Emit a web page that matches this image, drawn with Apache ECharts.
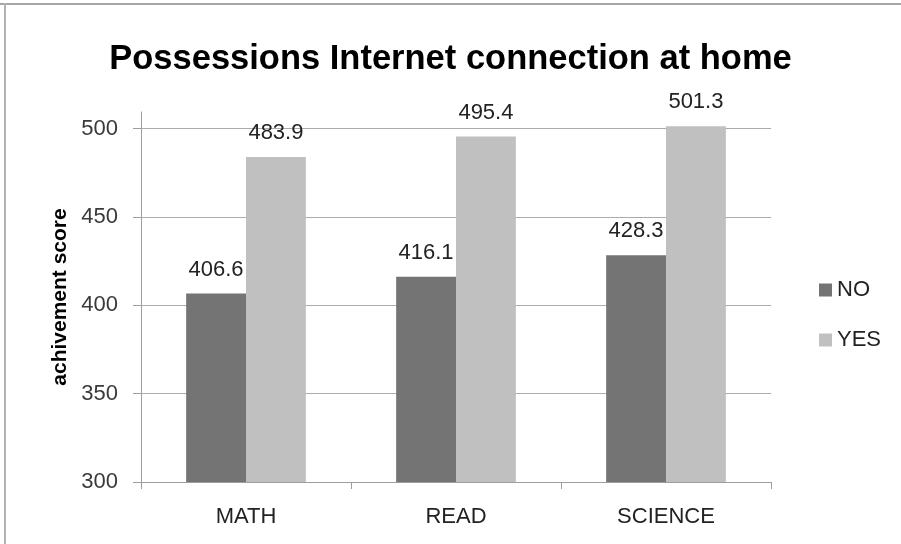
<!DOCTYPE html>
<html>
<head>
<meta charset="utf-8">
<script src="https://cdn.jsdelivr.net/npm/echarts@6/dist/echarts.min.js"></script>
<style>
  html, body { margin: 0; padding: 0; background: #fff; }
  #chart { width: 901px; height: 544px; }
</style>
</head>
<body>
<div id="chart"></div>
<script>
// Achievement scores by internet access at home
const categories = ['MATH', 'READ', 'SCIENCE'];
const noValues = [406.6, 416.1, 428.3];
const yesValues = [483.9, 495.4, 501.3];
const seriesNames = ['NO', 'YES'];
const yTicks = [300, 350, 400, 450, 500];

const FONT = "'Liberation Sans', Arial, sans-serif";
const TEXT = '#222222';
const AXIS = '#9e9e9e';
const GRID = '#ababab';

const chart = echarts.init(document.getElementById('chart'), null, { renderer: 'canvas' });

const barLabel = {
  show: true,
  position: 'top',
  distance: 13,
  fontFamily: FONT,
  fontSize: 22,
  color: TEXT,
  formatter: p => p.value.toFixed(1)
};

chart.setOption({
  backgroundColor: '#ffffff',
  animation: false,
  title: {
    text: 'Possessions Internet connection at home',
    left: 'center',
    top: 37,
    textStyle: { fontFamily: FONT, fontWeight: 'bold', fontSize: 34.5, color: '#000' }
  },
  legend: {
    orient: 'vertical',
    left: 814,
    top: 274,
    itemWidth: 13,
    itemHeight: 13,
    itemGap: 28,
    icon: 'rect',
    data: seriesNames,
    textStyle: { fontFamily: FONT, fontSize: 22, color: TEXT }
  },
  grid: { left: 141, right: 130, top: 112, bottom: 62, containLabel: false },
  xAxis: {
    type: 'category',
    data: categories,
    axisLine: { lineStyle: { color: AXIS, width: 1 } },
    axisTick: { show: true, length: 7, lineStyle: { color: AXIS } },
    axisLabel: { fontFamily: FONT, fontSize: 22, color: TEXT, margin: 24 }
  },
  yAxis: {
    type: 'value',
    min: 300,
    max: 509.3,
    interval: 50,
    name: 'achivement score',
    nameLocation: 'middle',
    nameRotate: 90,
    nameGap: 70,
    nameTextStyle: { fontFamily: FONT, fontWeight: 'bold', fontSize: 21, color: '#000' },
    axisLine: { show: true, lineStyle: { color: AXIS, width: 1 } },
    axisTick: { show: true, length: 8, customValues: yTicks, lineStyle: { color: AXIS } },
    axisLabel: { fontFamily: FONT, fontSize: 22, color: '#3a3a3a', margin: 23, customValues: yTicks },
    splitLine: {
      show: true,
      // the last split line sits on the top edge of the grid and stays hidden
      lineStyle: { color: [GRID, GRID, GRID, GRID, GRID, 'rgba(0,0,0,0)'], width: 1 }
    }
  },
  series: [
    {
      name: seriesNames[0],
      type: 'bar',
      data: noValues,
      barGap: '0%',
      barCategoryGap: '43%',
      itemStyle: { color: '#747474' },
      label: barLabel
    },
    {
      name: seriesNames[1],
      type: 'bar',
      data: yesValues,
      barGap: '0%',
      barCategoryGap: '43%',
      itemStyle: { color: '#c0c0c0' },
      label: barLabel
    }
  ],
  graphic: [
    { type: 'line', shape: { x1: 0, y1: 4, x2: 901, y2: 4 }, style: { stroke: '#a6a6a6', lineWidth: 2 }, silent: true },
    { type: 'line', shape: { x1: 5, y1: 3, x2: 5, y2: 544 }, style: { stroke: '#b3b3b3', lineWidth: 2 }, silent: true }
  ]
});
</script>
</body>
</html>
